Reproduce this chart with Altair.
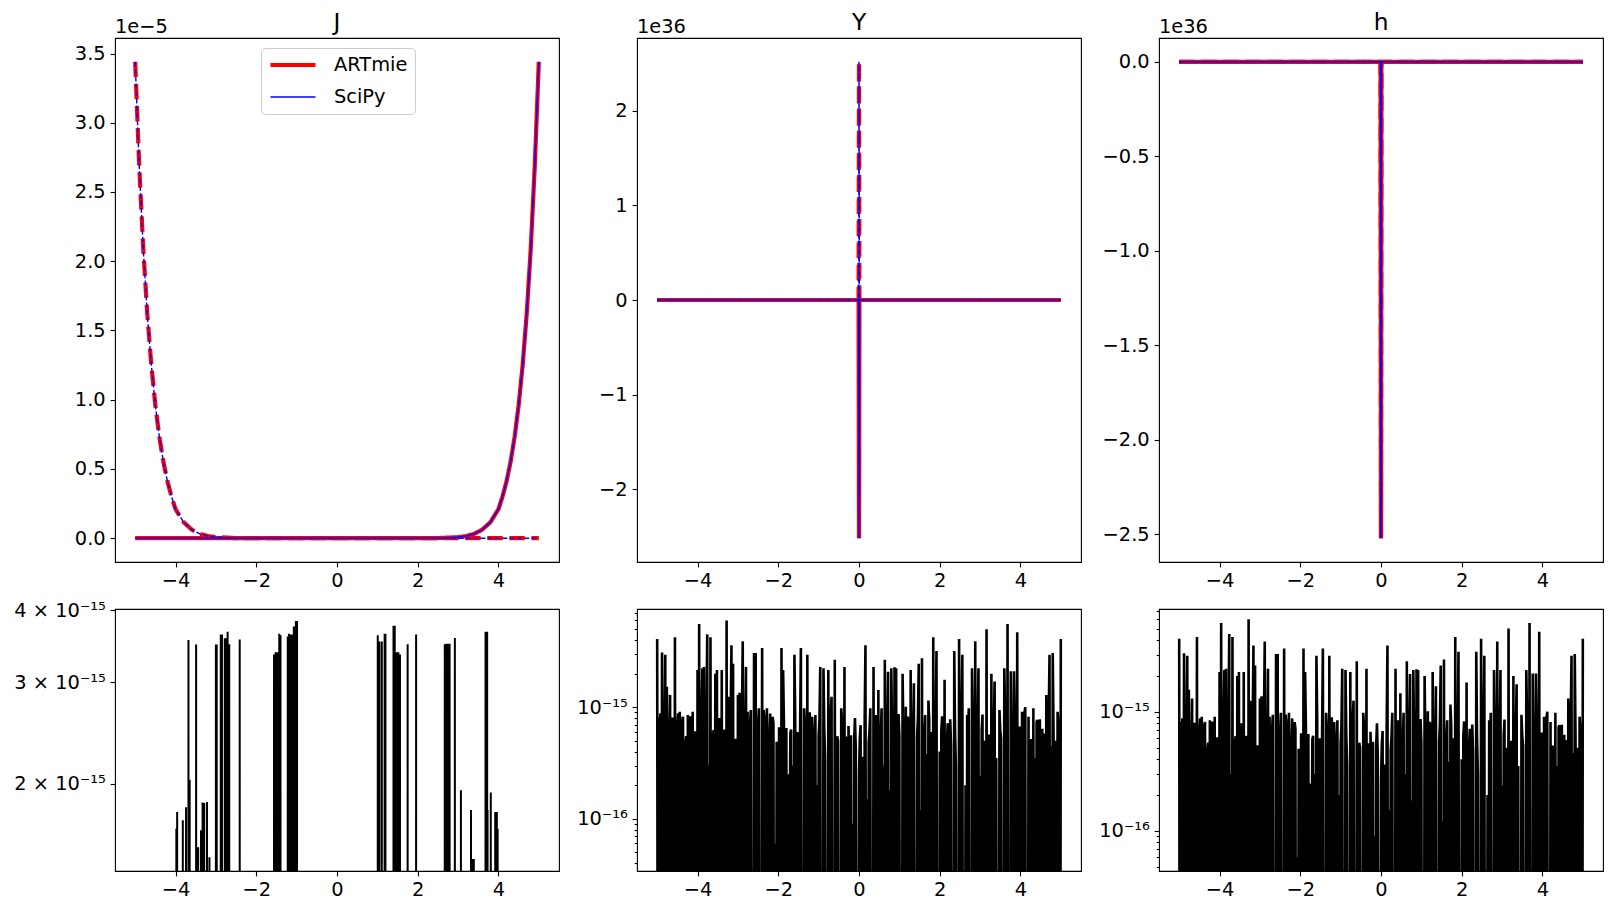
import altair as alt
import pandas as pd

FONT = "DejaVu Sans"
FS = 19.4
FS_TITLE = 23.3
W, H_TOP, H_BOT = 444, 524, 262

LIBS = ["ARTmie", "SciPy"]
KEYS = ["ARTmie-solid", "ARTmie-dashed", "SciPy-solid", "SciPy-dashed"]
DASHES = [[1, 0], [15.4, 6.7], [1, 0], [5.1, 2.2]]
X_TICKS = [-4, -2, 0, 2, 4]
X_DOMAIN = [-5.5, 5.5]

# ---- top row: J (units 1e-5), Y and h (units 1e36)
J_X = [-5.0, -4.9, -4.8, -4.7, -4.6, -4.5, -4.4, -4.3, -4.2, -4.1, -4.0, -3.8, -3.6,
       -3.4, -3.2, -3.0, -2.5, -2.0, 0.0, 2.0, 2.5, 3.0, 3.2, 3.4, 3.6, 3.8, 4.0,
       4.1, 4.2, 4.3, 4.4, 4.5, 4.6, 4.7, 4.8, 4.9, 5.0]
J_SOLID = [0.0, 0.0, 0.0, 0.0, 0.0, 0.0, 0.0, 0.0, 0.0, 0.0, 0.0, 0.0, 0.0,
           0.0, 0.0, 0.0, 0.0, 0.0, 0.0, 0.0, 0.001, 0.007, 0.015, 0.031, 0.062, 0.115, 0.21,
           0.3, 0.41, 0.55, 0.73, 0.96, 1.25, 1.62, 2.09, 2.69, 3.44]
J_DASHED = [3.44, 2.69, 2.09, 1.62, 1.25, 0.96, 0.73, 0.55, 0.41, 0.3, 0.21, 0.115, 0.062,
            0.031, 0.015, 0.007, 0.001, 0.0, 0.0, 0.0, 0.0, 0.0, 0.0, 0.0, 0.0, 0.0, 0.0,
            0.0, 0.0, 0.0, 0.0, 0.0, 0.0, 0.0, 0.0, 0.0, 0.0]
J_TICKS = [0.0, 0.5, 1.0, 1.5, 2.0, 2.5, 3.0, 3.5]
J_DOMAIN = [-0.172, 3.612]

YH_X = [-5.0, -0.01, 0.0, 0.01, 5.0]
Y_SOLID = [0.0, 0.0, -2.52, 0.0, 0.0]
Y_DASHED = [0.0, 0.0, 2.52, 0.0, 0.0]
Y_TICKS = [-2, -1, 0, 1, 2]
Y_DOMAIN = [-2.772, 2.772]
H_SOLID = [0.0, 0.0, -2.52, 0.0, 0.0]
H_DASHED = [0.0, 0.0, -2.52, 0.0, 0.0]
H_TICKS = [0.0, -0.5, -1.0, -1.5, -2.0, -2.5]
H_DOMAIN = [-2.646, 0.126]

# ---- bottom row: relative differences
# J: isolated spikes (units 1e-15), zero elsewhere
JERR_X = [-3.98, -3.96, -3.82, -3.74, -3.68, -3.65, -3.49, -3.44, -3.37, -3.33,
          -3.29, -3.22, -3.16, -3.00, -2.98, -2.88, -2.85, -2.78, -2.75, -2.71,
          -2.67, -2.41, -1.56, -1.52, -1.47, -1.43, -1.40, -1.22, -1.19, -1.14,
          -1.10, -1.07, -1.03, -1.02, -0.99, 1.01, 1.05, 1.11, 1.18, 1.20,
          1.40, 1.43, 1.47, 1.52, 1.56, 1.75, 1.96, 2.67, 2.71, 2.76,
          2.79, 2.92, 3.07, 3.32, 3.35, 3.39, 3.68, 3.72, 3.73, 3.81,
          3.92, 3.96, 3.98]
JERR_V = [1.67, 1.785, 1.727, 1.82, 3.55, 2.03, 3.487, 1.55, 1.66, 1.855,
          1.85, 1.858, 1.49, 3.487, 3.487, 3.63, 3.63, 3.575, 3.575, 3.67,
          3.49, 3.56, 3.35, 3.38, 3.38, 3.64, 3.62, 3.6, 3.64, 3.63,
          3.63, 3.75, 3.75, 3.83, 3.83, 3.62, 3.53, 3.53, 3.64, 3.64,
          3.76, 3.76, 3.38, 3.38, 3.35, 3.49, 3.63, 3.49, 3.5, 3.5,
          3.5, 3.58, 1.947, 1.80, 1.48, 1.48, 3.67, 3.67, 1.80, 1.93,
          1.785, 1.785, 1.67]
JERR_DOMAIN = [1.41e-15, 4.02e-15]
JERR_TICKS = [2e-15, 3e-15, 4e-15]

# Y and h: read every 0.04 from -5 to 5 (units 1e-16) ...
YERR_V = [41, 8.2, 8.8, 31, 0, 29.5, 15.3, 3, 12.9, 0,
          5, 42.5, 0, 8.8, 9.1, 2, 8.2, 0.5, 5.5, 8.5,
          0, 6, 9.1, 4, 0, 21.6, 55.7, 1.5, 22.4, 23,
          0, 45, 3, 42.5, 0, 6.25, 20, 21.6, 0.8, 6,
          21.6, 2, 0, 60, 12.4, 4, 36, 24.5, 0, 5,
          12.9, 13.5, 1.5, 39, 0, 23, 9.1, 3, 9.45, 0,
          30.6, 30.6, 2.5, 9.8, 0, 34, 9.45, 4.5, 9.8, 0,
          8.8, 1.2, 7.2, 0.6, 4.9, 0, 5.5, 34, 21.6, 0,
          6.5, 2.5, 0.5, 6.3, 3, 29.5, 0, 6.0, 1.5, 34,
          0, 9.8, 4, 29.5, 0.7, 5, 8.2, 0, 8.5, 2,
          5.5, 23, 0, 22.4, 3.5, 0, 21.6, 4, 12.4, 0,
          26.6, 1, 5, 0, 9.8, 3, 23, 5.45, 0, 3.2,
          5.6, 0.9, 5.1, 4.3, 0, 2.5, 6.9, 3.6, 0, 36,
          1.5, 4.8, 9.8, 0, 23, 4.9, 0.6, 14.3, 0, 9.8,
          3, 26.6, 0, 20.8, 1.8, 22.4, 0, 22.8, 22.4, 1,
          5.45, 0, 20, 4.5, 10.1, 8.2, 0, 21.6, 3, 16.4,
          0, 5.5, 24.5, 1.2, 27.5, 0, 8.5, 3.8, 11.5, 0,
          6, 42.5, 2.2, 32, 0, 4, 6.25, 0.8, 17.6, 0,
          7.2, 2.5, 4.6, 0, 32, 3, 0, 41, 5, 29.5,
          0, 2, 8.5, 9.8, 0, 22.4, 4, 39, 0, 22.4,
          2.4, 6.25, 0, 5, 50, 0.9, 4.5, 20, 0, 17,
          3.5, 0, 9.45, 5.2, 0, 22.4, 1.5, 55.7, 0, 21,
          3, 21, 0, 47, 2, 0, 9.1, 4, 10, 0,
          8.2, 2.2, 0, 9.8, 3.5, 7.4, 0, 7.8, 4.2, 0,
          5.8, 12.9, 0, 29.5, 4.5, 30.6, 0, 5, 9.1, 2,
          41]
# ... and the samples lying between them (x = -4.98 + 0.04 i)
YERR_MID = [0, 6.5, 0, 0, 7.2, 0, 0, 5.8, 0, 8.1,
            0, 0, 6.9, 0, 0, 7.6, 0, 4.8, 0, 0,
            8.3, 0, 0, 6.1, 0, 0, 0, 9.2, 0, 0,
            7.4, 0, 0, 0, 5.6, 0, 0, 0, 8.0, 0,
            0, 6.3, 0, 0, 0, 7.8, 0, 0, 5.2, 0,
            0, 0, 8.6, 0, 6.0, 0, 0, 7.1, 0, 0,
            0, 0, 6.7, 0, 0, 0, 7.9, 0, 0, 5.4,
            0, 8.2, 0, 0, 0, 6.6, 0, 0, 7.3, 0,
            0, 0, 5.9, 0, 0, 8.4, 0, 0, 6.2, 0,
            0, 7.0, 0, 0, 9.0, 0, 0, 5.7, 0, 0,
            7.7, 0, 0, 6.4, 0, 0, 0, 8.8, 0, 0,
            0, 5.5, 0, 0, 7.5, 0, 0, 0, 6.8, 0,
            0, 0, 8.0, 0, 0, 5.3, 0, 0, 7.4, 0,
            0, 6.1, 0, 0, 0, 8.5, 0, 0, 5.8, 0,
            0, 0, 7.2, 0, 0, 6.6, 0, 0, 0, 8.7,
            0, 0, 5.6, 0, 0, 7.9, 0, 0, 6.3, 0,
            0, 8.1, 0, 0, 0, 5.9, 0, 0, 7.6, 0,
            0, 0, 6.5, 0, 0, 0, 8.3, 0, 0, 5.1,
            0, 7.8, 0, 0, 6.0, 0, 0, 0, 9.1, 0,
            0, 0, 5.4, 0, 0, 7.1, 0, 0, 6.9, 0,
            0, 8.6, 0, 0, 0, 5.7, 0, 0, 7.0, 0,
            0, 0, 6.2, 0, 0, 8.2, 0, 0, 0, 5.6,
            0, 7.3, 0, 0, 6.7, 0, 0, 8.9, 0, 0,
            0, 5.2, 0, 0, 0, 7.7, 0, 0, 6.4, 0,
            0, 0, 8.0, 0, 0, 5.9, 0, 0, 7.1, 0]
YERR_STEP = 0.04
YERR_DOMAIN = [3.4e-17, 7.6e-15]
HERR_DOMAIN = [4.6e-17, 7.3e-15]
YERR_TICKS = [4e-17, 5e-17, 6e-17, 7e-17, 8e-17, 9e-17, 1e-16, 2e-16, 3e-16, 4e-16,
              5e-16, 6e-16, 7e-16, 8e-16, 9e-16, 1e-15, 2e-15, 3e-15, 4e-15, 5e-15,
              6e-15, 7e-15]
HERR_TICKS = YERR_TICKS[1:]

TINY = 1e-20


def x_enc():
    return alt.X("x:Q", scale=alt.Scale(domain=X_DOMAIN, nice=False, zero=False),
                 axis=alt.Axis(values=X_TICKS, format="d", title=None))


def label_layer(text, x, y, align, size):
    return alt.Chart(pd.DataFrame({"t": [text]})).mark_text(
        align=align, baseline="alphabetic", font=FONT, fontSize=size, color="black"
    ).encode(text="t:N", x=alt.value(x), y=alt.value(y))


def top_panel(title, xs, solid, dashed, dom, ticks, fmt, exp_label, with_legend):
    rows = []
    for lib in LIBS:
        for part, vals in (("solid", solid), ("dashed", dashed)):
            for x, v in zip(xs, vals):
                rows.append({"x": x, "v": v, "lib": lib, "key": f"{lib}-{part}"})
    df = pd.DataFrame(rows)
    if with_legend:
        leg = alt.Legend(orient="none", legendX=146, legendY=10, title=None,
                         symbolType="stroke", symbolSize=2025, clipHeight=20,
                         labelFont=FONT, labelFontSize=FS, labelColor="black",
                         padding=7, rowPadding=12, fillColor="white",
                         strokeColor="#cccccc", cornerRadius=4, labelOffset=16)
    else:
        leg = None
    lines = alt.Chart(df).mark_line(clip=True).encode(
        x=x_enc(),
        y=alt.Y("v:Q", scale=alt.Scale(domain=dom, nice=False, zero=False),
                axis=alt.Axis(values=ticks, format=fmt, title=None)),
        color=alt.Color("lib:N", scale=alt.Scale(domain=LIBS, range=["red", "blue"]), legend=leg),
        strokeWidth=alt.StrokeWidth("lib:N", scale=alt.Scale(domain=LIBS, range=[4.2, 1.4]), legend=leg),
        strokeDash=alt.StrokeDash("key:N", scale=alt.Scale(domain=KEYS, range=DASHES), legend=None),
    )
    return alt.layer(
        lines,
        label_layer(exp_label, 0, -5.5, "left", FS),
        label_layer(title, W / 2, -8.5, "center", FS_TITLE),
    ).properties(width=W, height=H_TOP)


MAJOR = "abs(log(datum.value)/LN10 - round(log(datum.value)/LN10)) < 0.001"


def bottom_panel(df, dom, ticks, label_expr, tick_size, sw):
    return alt.Chart(df).mark_line(clip=True, color="black", strokeWidth=sw).encode(
        x=x_enc(),
        y=alt.Y("e:Q", scale=alt.Scale(type="log", domain=dom, nice=False),
                axis=alt.Axis(values=ticks, title=None, labelExpr=label_expr, tickSize=tick_size)),
    ).properties(width=W, height=H_BOT)


# bottom-left data: spikes from a zero baseline
jrows = []
for x, v in zip(JERR_X, JERR_V):
    jrows += [{"x": x - 0.005, "v": 0.0}, {"x": x, "v": v}, {"x": x + 0.005, "v": 0.0}]
jrows = [{"x": -5.0, "v": 0.0}] + jrows + [{"x": 5.0, "v": 0.0}]
jdf = pd.DataFrame(jrows)
jdf["e"] = [v * 1e-15 if v > 0 else TINY for v in jdf["v"]]

yx = [round(-5 + YERR_STEP * i, 2) for i in range(len(YERR_V))]
yx_mid = [round(-5 + YERR_STEP * (i + 0.5), 2) for i in range(len(YERR_MID))]
ydf = pd.DataFrame({"x": yx + yx_mid, "v": YERR_V + YERR_MID}).sort_values("x")
ydf["e"] = [v * 1e-16 if v > 0 else TINY for v in ydf["v"]]

pJ = top_panel("J", J_X, J_SOLID, J_DASHED, J_DOMAIN, J_TICKS, ".1f", "1e−5", True)
pY = top_panel("Y", YH_X, Y_SOLID, Y_DASHED, Y_DOMAIN, Y_TICKS, "d", "1e36", False)
pH = top_panel("h", YH_X, H_SOLID, H_DASHED, H_DOMAIN, H_TICKS, ".1f", "1e36", False)

log_label = (f"{MAJOR} ? '10' + (round(log(datum.value)/LN10) < -15.5 ? '⁻¹⁶' : '⁻¹⁵') : ''")
log_tick = {"condition": {"test": MAJOR, "value": 4.9}, "value": 2.8}

bJ = bottom_panel(jdf, JERR_DOMAIN, JERR_TICKS,
                  "format(datum.value*1e15, '.0f') + ' × 10⁻¹⁵'", 4.9, 2)
bY = bottom_panel(ydf, YERR_DOMAIN, YERR_TICKS, log_label, log_tick, 2.6)
bH = bottom_panel(ydf, HERR_DOMAIN, HERR_TICKS, log_label, log_tick, 2.6)

chart = alt.concat(pJ, pY, pH, bJ, bY, bH, columns=3, bounds="flush",
                   spacing={"row": 47, "column": 78}).properties(
    padding={"left": 13, "top": 9, "right": 5, "bottom": 5},
    background="white",
).configure_view(stroke="black", strokeWidth=1.1).configure_axis(
    labelFont=FONT, labelFontSize=FS, labelColor="black", tickColor="black",
    tickWidth=1.1, tickSize=4.9, labelPadding=4.9, domain=False, grid=False,
    labelFlush=False, labelOverlap=False, labelBound=False,
)

chart.save("out.html", embed_options={"renderer": "svg", "actions": False})
